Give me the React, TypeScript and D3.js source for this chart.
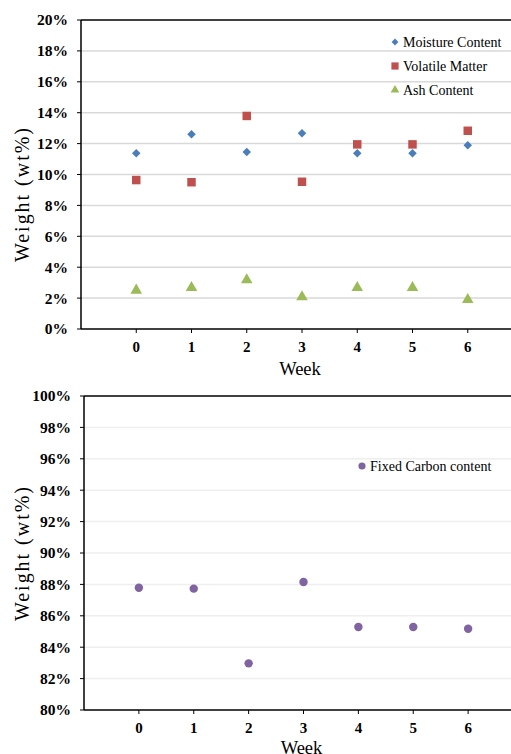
import React from 'react';
import * as d3 from 'd3';

const weeks = [0, 1, 2, 3, 4, 5, 6];
const moisture = [11.37, 12.6, 11.46, 12.67, 11.37, 11.37, 11.89];
const volatile = [9.64, 9.5, 13.79, 9.53, 11.95, 11.95, 12.83];
const ash = [2.57, 2.74, 3.24, 2.14, 2.74, 2.74, 1.96];
const fixedCarbon = [87.79, 87.73, 82.97, 88.15, 85.29, 85.29, 85.18];

const topTicks = [0, 2, 4, 6, 8, 10, 12, 14, 16, 18, 20];
const bottomTicks = [80, 82, 84, 86, 88, 90, 92, 94, 96, 98, 100];

const serif = "'Liberation Serif', 'DejaVu Serif', serif";

const topX = d3.scaleLinear().domain([-1, 7]).range([81, 523]);
const topY = d3.scaleLinear().domain([0, 20]).range([329, 20]);
const botX = d3.scaleLinear().domain([-1, 7]).range([84, 523]);
const botY = d3.scaleLinear().domain([80, 100]).range([710, 396]);

const square = d3.symbol().type(d3.symbolSquare).size(72)()!;
const diamond = d3.symbol().type(d3.symbolSquare).size(36)()!;
const triangle = d3.symbol().type(d3.symbolTriangle).size(58)()!;
const circle = d3.symbol().type(d3.symbolCircle).size(56)()!;

function Frame({ x, y, ticks, grid, label, titleY, weekOff }: any) {
  const [x0] = x.range();
  const [y0, y1] = y.range();
  return (
    <g>
      {ticks.map((t: number) => (
        <g key={t}>
          {t !== ticks[0] && t !== ticks[ticks.length - 1] && (
            <line x1={x0} x2={511} y1={y(t)} y2={y(t)} stroke={grid} strokeWidth={1.5} />
          )}
          <line x1={x0 - 4} x2={x0} y1={y(t)} y2={y(t)} stroke="#000" strokeWidth={1} />
          <text x={x0 - 13} y={y(t)} dy="0.35em" textAnchor="end"
            fontFamily={serif} fontWeight="bold" fontSize={15.5}>{label(t)}</text>
        </g>
      ))}
      <line x1={x0} x2={511} y1={y1} y2={y1} stroke="#404040" strokeWidth={2} />
      <line x1={x0} x2={511} y1={y0} y2={y0} stroke="#000" strokeWidth={1.5} />
      <line x1={x0} x2={x0} y1={y1} y2={y0} stroke="#000" strokeWidth={1.5} />
      {weeks.map((w) => (
        <g key={w}>
          <line x1={x(w)} x2={x(w)} y1={y0} y2={y0 + 4} stroke="#000" strokeWidth={1} />
          <text x={x(w)} y={y0 + 18} dy="0.35em" textAnchor="middle"
            fontFamily={serif} fontWeight="bold" fontSize={15}>{w}</text>
        </g>
      ))}
      <text x={x(3) - 2} y={y0 + weekOff} textAnchor="middle"
        fontFamily={serif} fontSize={18.5}>Week</text>
      <text transform={`translate(22,${titleY}) rotate(-90)`} dy="0.35em" textAnchor="middle"
        fontFamily={serif} fontSize={20} textLength={134} lengthAdjust="spacing">Weight (wt%)</text>
    </g>
  );
}

export default function App() {
  const pct = (t: number) => `${t}%`;
  return (
    <div style={{ position: 'absolute', left: 0, top: 0 }}>
      <svg width={511} height={754} style={{ display: 'block', background: '#fff' }}>
        <Frame x={topX} y={topY} ticks={topTicks} grid="#d9d9d9" label={pct} titleY={195} weekOff={46} />
        {weeks.map((w, i) => (
          <g key={'m' + w}>
            <path d={square} fill="#c0504d" transform={`translate(${topX(w)},${topY(volatile[i])})`} />
            <path d={diamond} fill="#4a7ebb" transform={`translate(${topX(w)},${topY(moisture[i])}) rotate(45)`} />
            <path d={triangle} fill="#9bbb59" transform={`translate(${topX(w)},${topY(ash[i]) + 1})`} />
          </g>
        ))}
        <g fontFamily={serif} fontSize={14}>
          <path d={diamond} fill="#4a7ebb" transform="translate(395,42) rotate(45) scale(0.8)" />
          <text x={403} y={42} dy="0.35em">Moisture Content</text>
          <path d={square} fill="#c0504d" transform="translate(395,66) scale(0.85)" />
          <text x={403} y={66} dy="0.35em">Volatile Matter</text>
          <path d={triangle} fill="#9bbb59" transform="translate(395,90) scale(0.75)" />
          <text x={403} y={90} dy="0.35em">Ash Content</text>
        </g>

        <Frame x={botX} y={botY} ticks={bottomTicks} grid="#eeeeee" label={pct} titleY={554} weekOff={44} />
        {weeks.map((w, i) => (
          <path key={'f' + w} d={circle} fill="#8064a2"
            transform={`translate(${botX(w)},${botY(fixedCarbon[i])})`} />
        ))}
        <g fontFamily={serif} fontSize={14}>
          <path d={circle} fill="#8064a2" transform="translate(362,466) scale(0.85)" />
          <text x={370} y={466} dy="0.35em">Fixed Carbon content</text>
        </g>
      </svg>
    </div>
  );
}
